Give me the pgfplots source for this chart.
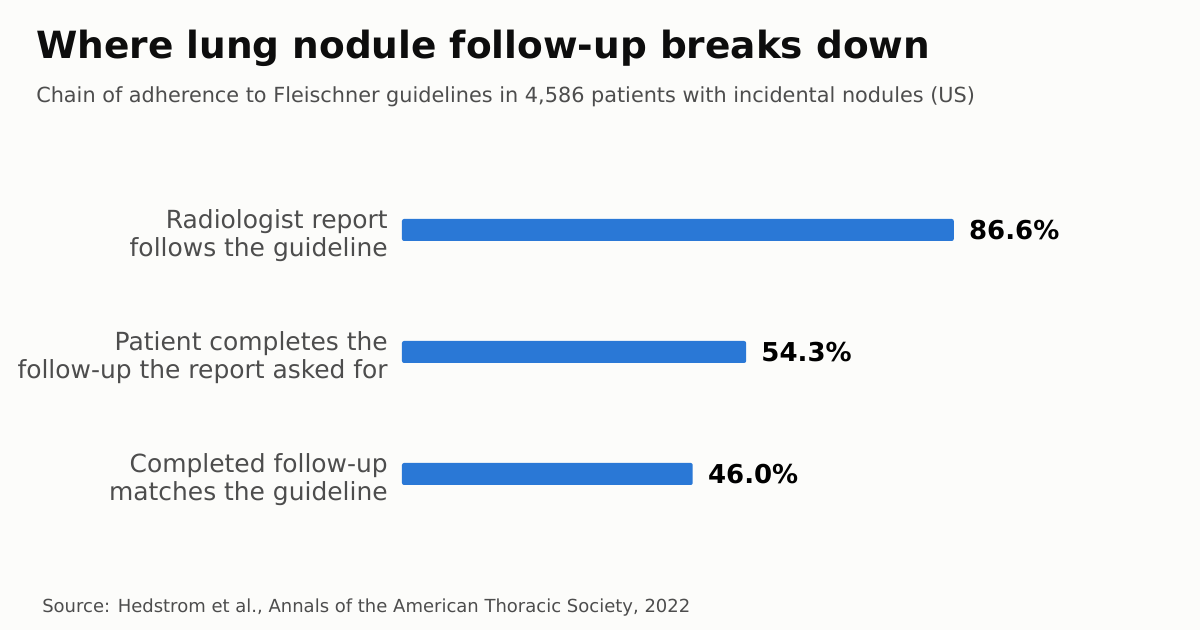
\documentclass[border=0pt]{standalone}
\usepackage{fontspec}
\setmainfont{DejaVu Sans}
\usepackage{pgfplots}
\pgfplotsset{compat=1.18}
\definecolor{bgcol}{HTML}{FCFCFA}
\definecolor{barblue}{HTML}{2A78D6}
\definecolor{labgrey}{HTML}{4D4D4D}
\definecolor{titleblk}{HTML}{0D0D0D}
\begin{document}
% 1 unit = 1 px of the 1200x630 reference, y counted from the bottom
\begin{tikzpicture}[x=0.75pt,y=0.75pt]
\fill[bgcol] (0,0) rectangle (1200,630);
\useasboundingbox (0,0) rectangle (1200,630);

\node[anchor=base west,inner sep=0pt,text=titleblk,font=\fontsize{28.1pt}{32pt}\selectfont\bfseries]
  at (36,571) {Where lung nodule follow-up breaks down};
\node[anchor=base west,inner sep=0pt,text=labgrey,font=\fontsize{15.6pt}{18pt}\selectfont]
  at (36,527) {Chain of adherence to Fleischner guidelines in 4,586 patients with incidental nodules (US)};
\node[anchor=base west,inner sep=0pt,text=labgrey,font=\fontsize{13.5pt}{15pt}\selectfont]
  at (42,17) {Source: Hedstrom et al., Annals of the American Thoracic Society, 2022};

% axis box starts at x=402 px; bars start a little left of it and are clipped square
\begin{axis}[
    at={(301.5pt,71.25pt)}, anchor=south west,
    scale only axis,
    width=574.9pt, height=274.5pt,
    xbar, bar shift=0pt, bar width=16.5pt,
    xmin=0.78, xmax=120,
    ymin=-0.5, ymax=2.5, y dir=reverse,
    axis line style={draw=none},
    major tick length=0pt,
    xtick=\empty,
    ytick={0,1,2},
    yticklabels={{Radiologist report\\follows the guideline},
                 {Patient completes the\\follow-up the report asked for},
                 {Completed follow-up\\matches the guideline}},
    yticklabel style={align=right, inner sep=0pt, text=labgrey, yshift=-4.5pt,
                      font=\fontsize{18.7pt}{21pt}\selectfont},
    yticklabel shift=10.5pt,
    /pgf/number format/assume math mode=true,
    point meta=x,
    nodes near coords={\pgfmathprintnumber[fixed,fixed zerofill,precision=1]{\pgfplotspointmeta}\%},
    nodes near coords style={anchor=west, inner sep=0pt, xshift=11.3pt,
                             text=black, font=\fontsize{19.5pt}{22pt}\selectfont\bfseries},
]
\addplot[fill=barblue, draw=none, rounded corners=1.5pt]
  coordinates {(86.6,0) (54.3,1) (46.0,2)};
\end{axis}
\end{tikzpicture}
\end{document}
